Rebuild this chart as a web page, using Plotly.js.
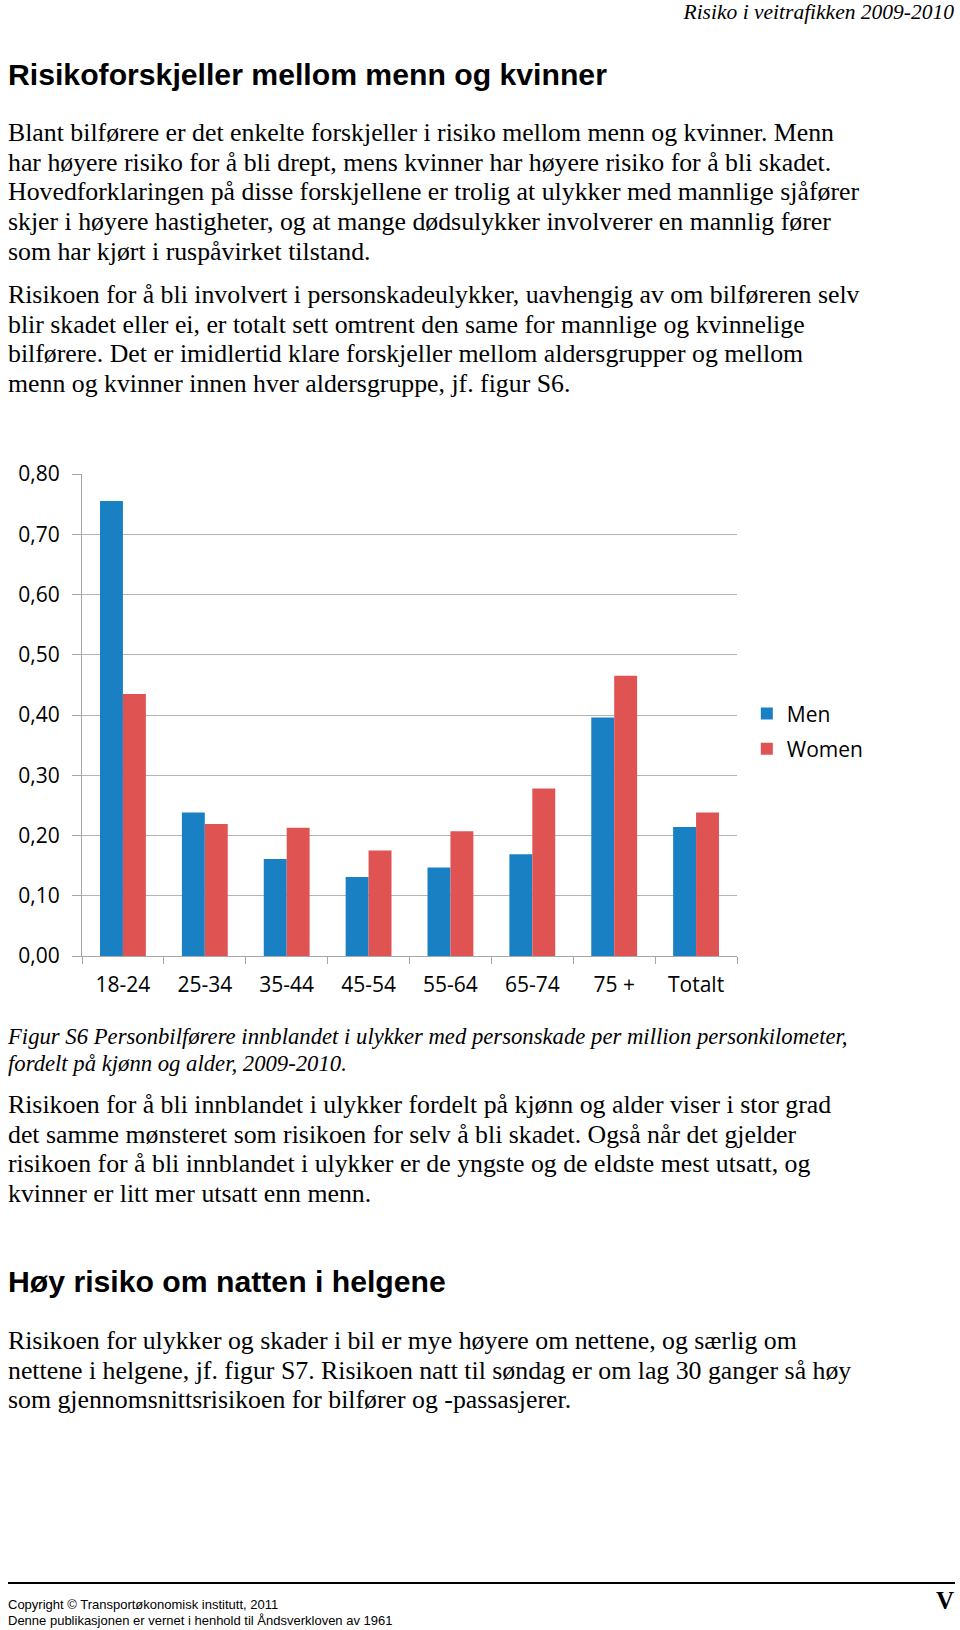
<!DOCTYPE html>
<html>
<head>
<meta charset="utf-8">
<script src="https://cdn.plot.ly/plotly-3.0.1.min.js"></script>
<style>
  body { margin: 0; background: #fff; }
  #page { position: relative; width: 960px; height: 1630px; overflow: hidden; background: #fff; color: #000; }
  .t { position: absolute; left: 8px; white-space: nowrap; }
  .serif { font-family: "Liberation Serif", "Times New Roman", serif; }
  .sans { font-family: "Liberation Sans", Arial, sans-serif; }
  .body { font-size: 25.8px; line-height: 29.65px; }
  .h { font-size: 30.2px; line-height: 34px; font-weight: bold; }
  .cap { font-size: 22.7px; line-height: 27px; font-style: italic; }
  #chart { position: absolute; left: 0; top: 420px; width: 960px; height: 600px; }
</style>
</head>
<body>
<div id="page">
  <div class="t serif" style="left:auto; right:6px; top:-1px; font-size:21.5px; line-height:26px; font-style:italic;">Risiko i veitrafikken 2009-2010</div>

  <div class="t sans h" style="top:58px;">Risikoforskjeller mellom menn og kvinner</div>

  <div class="t serif body" style="top:118px;">Blant bilførere er det enkelte forskjeller i risiko mellom menn og kvinner. Menn<br>har høyere risiko for å bli drept, mens kvinner har høyere risiko for å bli skadet.<br>Hovedforklaringen på disse forskjellene er trolig at ulykker med mannlige sjåfører<br>skjer i høyere hastigheter, og at mange dødsulykker involverer en mannlig fører<br>som har kjørt i ruspåvirket tilstand.</div>

  <div class="t serif body" style="top:280px;">Risikoen for å bli involvert i personskadeulykker, uavhengig av om bilføreren selv<br>blir skadet eller ei, er totalt sett omtrent den same for mannlige og kvinnelige<br>bilførere. Det er imidlertid klare forskjeller mellom aldersgrupper og mellom<br>menn og kvinner innen hver aldersgruppe, jf. figur S6.</div>

  <div id="chart"></div>

  <div class="t serif cap" style="top:1023px;">Figur S6 Personbilførere innblandet i ulykker med personskade per million personkilometer,<br>fordelt på kjønn og alder, 2009-2010.</div>

  <div class="t serif body" style="top:1090px;">Risikoen for å bli innblandet i ulykker fordelt på kjønn og alder viser i stor grad<br>det samme mønsteret som risikoen for selv å bli skadet. Også når det gjelder<br>risikoen for å bli innblandet i ulykker er de yngste og de eldste mest utsatt, og<br>kvinner er litt mer utsatt enn menn.</div>

  <div class="t sans h" style="top:1265px;">Høy risiko om natten i helgene</div>

  <div class="t serif body" style="top:1326px;">Risikoen for ulykker og skader i bil er mye høyere om nettene, og særlig om<br>nettene i helgene, jf. figur S7. Risikoen natt til søndag er om lag 30 ganger så høy<br>som gjennomsnittsrisikoen for bilfører og -passasjerer.</div>

  <div style="position:absolute; left:8px; top:1582px; width:947px; height:2px; background:#000;"></div>
  <div class="t sans" style="top:1597px; font-size:13px; line-height:16px;">Copyright © Transportøkonomisk institutt, 2011<br>Denne publikasjonen er vernet i henhold til Åndsverkloven av 1961</div>
  <div class="t serif" style="left:auto; right:6px; top:1587px; font-size:25px; line-height:28px; font-weight:bold;">V</div>
</div>

<script>
// Figur S6 - risk per million person-km, by sex and age
var ageGroups = ['18-24', '25-34', '35-44', '45-54', '55-64', '65-74', '75 +', 'Totalt'];
var menRisk   = [0.755, 0.238, 0.161, 0.131, 0.147, 0.169, 0.396, 0.214];
var womenRisk = [0.435, 0.219, 0.213, 0.175, 0.207, 0.278, 0.465, 0.238];
var yTicks = [0, 0.1, 0.2, 0.3, 0.4, 0.5, 0.6, 0.7, 0.8];

var chartFont = { family: 'Open Sans, Lato, sans-serif', size: 21, color: '#000' };

var data = [
  { type: 'bar', name: 'Men', x: ageGroups, y: menRisk, legendgroup: 'm',
    marker: { color: '#1a80c4' }, hoverinfo: 'x+y' },
  { type: 'bar', name: 'Women', x: ageGroups, y: womenRisk, legendgroup: 'w',
    marker: { color: '#e05353' }, hoverinfo: 'x+y' }
];

var layout = {
  width: 960,
  height: 600,
  margin: { l: 82, r: 223, t: 54, b: 64 },
  paper_bgcolor: '#fff',
  plot_bgcolor: '#fff',
  font: chartFont,
  barmode: 'group',
  bargap: 0.44,
  bargroupgap: 0,
  separators: ',.',
  showlegend: true,
  legend: {
    x: 1.015, xanchor: 'left',
    y: 0.466, yanchor: 'middle',
    font: chartFont,
    tracegroupgap: 5,
    bgcolor: 'rgba(0,0,0,0)'
  },
  xaxis: {
    type: 'category',
    showline: true, linecolor: '#a6a6a6', linewidth: 1,
    ticks: 'outside', tickson: 'boundaries', ticklen: 7, tickcolor: '#a6a6a6',
    ticklabelstandoff: 10,
    showgrid: false, zeroline: false,
    tickfont: chartFont
  },
  yaxis: {
    range: [0, 0.8],
    tickvals: yTicks,
    tickformat: '.2f',
    showline: true, linecolor: '#a6a6a6', linewidth: 1,
    ticks: 'outside', ticklen: 9, tickcolor: '#a6a6a6',
    ticklabelstandoff: 8,
    showgrid: true, gridcolor: '#b4b4b4', gridwidth: 1,
    zeroline: false,
    tickfont: chartFont
  }
};

Plotly.newPlot('chart', data, layout, { displayModeBar: false, staticPlot: true });
</script>
</body>
</html>
